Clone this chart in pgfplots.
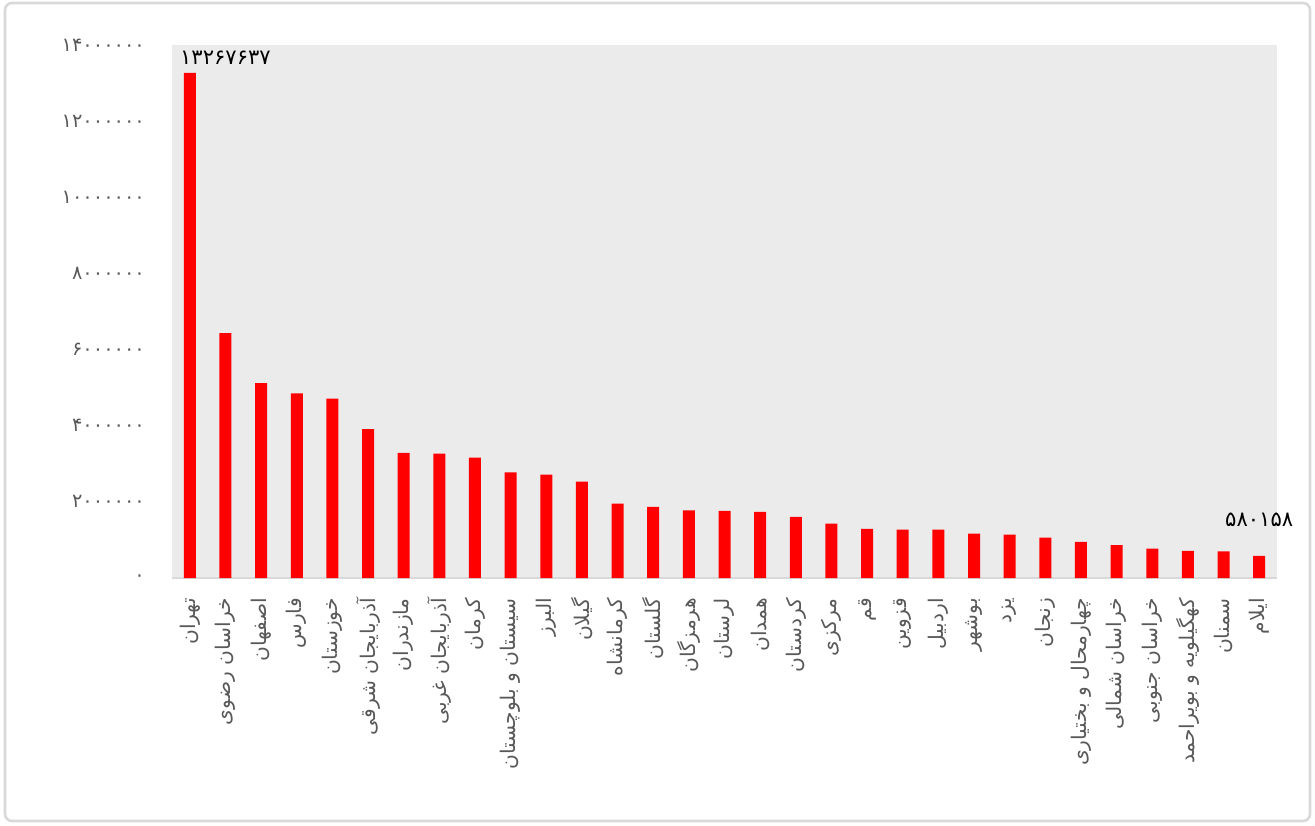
\documentclass[border=0pt]{standalone}
\usepackage{pgfplots}
\pgfplotsset{compat=1.18}
\usepackage{fontspec}
\setmainfont{DejaVu Sans}
\newfontfamily\arabicfont[Script=Arabic]{DejaVu Sans}
\TeXXeTstate=1
\definecolor{plotbg}{RGB}{235,235,235}
\definecolor{labelgray}{RGB}{89,89,89}
\definecolor{axisgray}{RGB}{217,217,217}

\begin{document}
\begin{tikzpicture}
\path[use as bounding box] (0,0) rectangle (26.3cm,16.5cm);
\draw[axisgray, line width=1.5pt, rounded corners=4pt] (0.1cm,0.08cm) rectangle (26.2cm,16.44cm);
\begin{axis}[
  at={(3.44cm,4.94cm)}, anchor=south west,
  scale only axis, width=22.1cm, height=10.66cm,
  clip=false,
  xmin=-0.5, xmax=30.5, ymin=0, ymax=14000000,
  axis background/.style={fill=plotbg},
  axis x line*=bottom, axis y line*=left,
  x axis line style={draw=axisgray, line width=1pt, -},
  y axis line style={draw=none},
  tick style={draw=none},
  major tick length=0pt,
  scaled y ticks=false,
  ytick={0,2000000,4000000,6000000,8000000,10000000,12000000,14000000},
  yticklabels={۰,۲۰۰۰۰۰۰,۴۰۰۰۰۰۰,۶۰۰۰۰۰۰,۸۰۰۰۰۰۰,۱۰۰۰۰۰۰۰,۱۲۰۰۰۰۰۰,۱۴۰۰۰۰۰۰},
  yticklabel style={font=\arabicfont\fontsize{11}{13}\selectfont, text=labelgray, xshift=-0.42cm},
  xtick={0,...,30},
  xticklabels={
    {\beginR تهران\endR},{\beginR خراسان رضوی\endR},{\beginR اصفهان\endR},
    {\beginR فارس\endR},{\beginR خوزستان\endR},{\beginR آذربایجان شرقی\endR},
    {\beginR مازندران\endR},{\beginR آذربایجان غربی\endR},{\beginR کرمان\endR},
    {\beginR سیستان و بلوچستان\endR},{\beginR البرز\endR},{\beginR گیلان\endR},
    {\beginR کرمانشاه\endR},{\beginR گلستان\endR},{\beginR هرمزگان\endR},
    {\beginR لرستان\endR},{\beginR همدان\endR},{\beginR کردستان\endR},
    {\beginR مرکزی\endR},{\beginR قم\endR},{\beginR قزوین\endR},
    {\beginR اردبیل\endR},{\beginR بوشهر\endR},{\beginR یزد\endR},
    {\beginR زنجان\endR},{\beginR چهارمحال و بختیاری\endR},
    {\beginR خراسان شمالی\endR},{\beginR خراسان جنوبی\endR},
    {\beginR کهگیلویه و بویراحمد\endR},{\beginR سمنان\endR},{\beginR ایلام\endR}},
  xticklabel style={rotate=90, anchor=east, font=\arabicfont\fontsize{11.5}{13}\selectfont, text=labelgray},
  xticklabel shift=0.28cm,
]
\addplot[ybar, bar width=0.24cm, fill=red, draw=none] coordinates {
  (0,13267637) (1,6434501) (2,5120850) (3,4851274) (4,4710509)
  (5,3909652) (6,3283582) (7,3265219) (8,3164718) (9,2775014)
  (10,2712400) (11,2530696) (12,1952434) (13,1868819) (14,1776415)
  (15,1760649) (16,1738234) (17,1603011) (18,1429475) (19,1292283)
  (20,1273761) (21,1270420) (22,1163400) (23,1138533) (24,1057461)
  (25,947763) (26,863092) (27,768898) (28,713052) (29,702360) (30,580158)
};
\addplot[draw=none, mark=none, forget plot, nodes near coords, point meta=explicit symbolic,
  nodes near coords style={anchor=south west, inner sep=0pt, xshift=-0.2cm, yshift=0.16cm,
    font=\arabicfont\fontsize{12}{14}\selectfont, text=black}]
  coordinates {(0,13267637) [۱۳۲۶۷۶۳۷]};
\addplot[draw=none, mark=none, forget plot, nodes near coords, point meta=explicit symbolic,
  nodes near coords style={anchor=south, inner sep=0pt, yshift=0.58cm,
    font=\arabicfont\fontsize{12}{14}\selectfont, text=black}]
  coordinates {(30,580158) [۵۸۰۱۵۸]};
\end{axis}
\end{tikzpicture}
\end{document}
